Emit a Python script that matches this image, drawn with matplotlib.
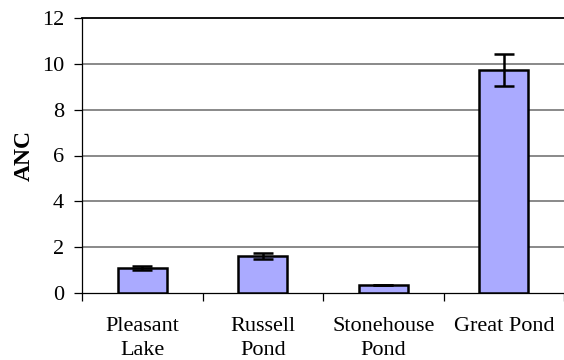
import matplotlib
matplotlib.use("Agg")
import matplotlib.pyplot as plt
import numpy as np

categories = ["Pleasant\nLake", "Russell\nPond", "Stonehouse\nPond", "Great Pond"]
values = [1.1, 1.62, 0.35, 9.72]
errors = [0.1, 0.12, 0.02, 0.7]
yticks = [0, 2, 4, 6, 8, 10, 12]

plt.rcParams['font.family'] = ['Liberation Serif', 'DejaVu Serif']

fig = plt.figure(figsize=(5.64, 3.6), dpi=100)
ax = fig.add_axes([82/564, (360-293)/360, (564-82)/564, 275/360])

x = np.arange(len(categories))
ax.bar(x, values, width=0.41, color="#aaaaff", edgecolor="black", linewidth=1.8, zorder=3)
ax.errorbar(x, values, yerr=errors, fmt='none', ecolor='black', elinewidth=1.8,
            capsize=7, capthick=1.8, zorder=4)

ax.set_xlim(-0.5, len(categories) - 0.5)
ax.set_ylim(0, 12)
ax.set_yticks(yticks)
ax.set_yticklabels([str(t) for t in yticks], fontsize=16)
for t in yticks[1:-1]:
    ax.axhline(t, color="#808080", linewidth=1.3, zorder=1)

ax.set_xticks(np.arange(len(categories) + 1) - 0.5)
ax.set_xticklabels([])
ax.set_xticks(x, minor=True)
ax.set_xticklabels(categories, minor=True, fontsize=16, linespacing=1.35)
ax.tick_params(axis='x', which='minor', length=0, pad=17)
ax.tick_params(axis='x', which='major', length=6, direction='out', width=0.9)
ax.tick_params(axis='y', length=6, direction='out', width=0.9, pad=7)

ax.spines['right'].set_visible(False)
ax.spines['top'].set_linewidth(1.3)
ax.spines['left'].set_linewidth(0.9)
ax.spines['bottom'].set_linewidth(0.9)

ax.set_ylabel("ANC", fontsize=17, fontweight='bold', labelpad=5)

fig.savefig("out.png", dpi=100)
